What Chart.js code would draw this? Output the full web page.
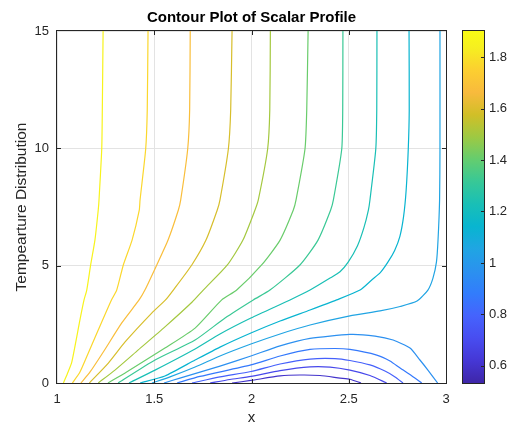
<!DOCTYPE html>
<html>
<head>
<meta charset="utf-8">
<script src="https://cdn.jsdelivr.net/npm/chart.js@4"></script>
<style>
  html, body { margin: 0; padding: 0; background: #fff; }
  canvas { display: block; }
</style>
</head>
<body>
<canvas id="chart" width="511" height="423"></canvas>
<script>
// contour levels, highest first (same order as the lines below)
const levels = [1.86, 1.77, 1.68, 1.59, 1.50, 1.41, 1.32, 1.23, 1.14, 1.05, 0.96, 0.87, 0.78, 0.69, 0.60];

// colour bar range and ticks
const cMin = 0.533;
const cMax = 1.902;
const cTicks = [0.6, 0.8, 1, 1.2, 1.4, 1.6, 1.8];

const xTicks = [1.5, 2, 2.5];
const yTicks = [5, 10];

// contour lines, [x, y]
const line1 = [[1.237, 15], [1.233, 11.63], [1.230, 9.97], [1.216, 7.80], [1.212, 7.37], [1.195, 6.09], [1.173, 5.03], [1.153, 3.96], [1.139, 3.54], [1.118, 2.69], [1.076, 0.89], [1.057, 0.47], [1.033, 0]];
const line2 = [[1.468, 15], [1.464, 11.63], [1.456, 9.97], [1.427, 7.80], [1.423, 7.37], [1.386, 6.09], [1.341, 5.03], [1.307, 3.96], [1.280, 3.54], [1.212, 2.26], [1.161, 1.28], [1.118, 0.47], [1.079, 0]];
const line3 = [[1.685, 15], [1.682, 11.63], [1.672, 9.97], [1.636, 7.80], [1.624, 7.37], [1.571, 6.09], [1.513, 5.03], [1.452, 3.96], [1.422, 3.54], [1.333, 2.56], [1.238, 1.32], [1.170, 0.47], [1.123, 0]];
const line4 = [[1.900, 15], [1.893, 11.63], [1.881, 9.97], [1.838, 7.80], [1.824, 7.37], [1.766, 6.09], [1.693, 5.03], [1.598, 3.96], [1.558, 3.54], [1.487, 2.98], [1.350, 1.75], [1.264, 0.85], [1.166, 0]];
const line5 = [[2.097, 15], [2.094, 11.63], [2.083, 9.97], [2.035, 7.80], [2.018, 7.37], [1.956, 6.09], [1.876, 5.03], [1.752, 3.96], [1.695, 3.45], [1.555, 2.39], [1.418, 1.41], [1.298, 0.55], [1.212, 0]];
const line6 = [[2.291, 15], [2.284, 11.63], [2.275, 9.97], [2.229, 7.80], [2.215, 7.37], [2.147, 6.09], [2.052, 5.03], [1.924, 3.96], [1.847, 3.54], [1.710, 2.34], [1.555, 1.49], [1.358, 0.47], [1.262, 0]];
const line7 = [[2.470, 15], [2.469, 11.63], [2.464, 9.97], [2.421, 7.80], [2.407, 7.37], [2.342, 6.09], [2.249, 5.03], [2.095, 3.96], [2.009, 3.54], [1.864, 2.77], [1.710, 1.83], [1.504, 0.98], [1.314, 0]];
const line8 = [[2.645, 15], [2.644, 11.63], [2.639, 9.97], [2.609, 7.80], [2.601, 7.37], [2.578, 6.62], [2.545, 5.85], [2.497, 5.15], [2.455, 4.74], [2.404, 4.47], [2.301, 3.96], [2.198, 3.54], [1.997, 2.77], [1.838, 2.09], [1.710, 1.45], [1.504, 0.55], [1.370, 0]];
const line9 = [[2.810, 15], [2.811, 11.63], [2.806, 9.97], [2.795, 8.20], [2.782, 7.10], [2.763, 6.25], [2.736, 5.65], [2.702, 5.16], [2.661, 4.69], [2.618, 4.39], [2.558, 3.96], [2.438, 3.54], [2.301, 3.11], [2.147, 2.64], [1.997, 2.13], [1.838, 1.53], [1.710, 0.98], [1.555, 0.30], [1.427, 0]];
const line10 = [[2.969, 15], [2.969, 9.97], [2.967, 7.80], [2.959, 6.09], [2.951, 5.16], [2.933, 4.47], [2.907, 3.96], [2.851, 3.49], [2.764, 3.26], [2.661, 3.07], [2.506, 2.86], [2.301, 2.47], [2.147, 2.09], [1.997, 1.66], [1.838, 1.15], [1.710, 0.68], [1.581, 0.26], [1.488, 0]];
const line11 = [[1.550, 0], [1.632, 0.21], [1.838, 0.72], [1.997, 1.15], [2.147, 1.58], [2.301, 1.90], [2.506, 2.07], [2.635, 2.00], [2.728, 1.83], [2.815, 1.49], [2.866, 0.98], [2.907, 0.55], [2.957, 0]];
const line12 = [[1.617, 0], [1.735, 0.28], [1.997, 0.77], [2.147, 1.15], [2.301, 1.43], [2.429, 1.47], [2.506, 1.43], [2.644, 1.19], [2.712, 0.94], [2.764, 0.64], [2.825, 0.30], [2.875, 0]];
const line13 = [[1.694, 0], [1.838, 0.26], [1.997, 0.49], [2.147, 0.81], [2.301, 1.02], [2.429, 1.04], [2.506, 0.96], [2.609, 0.77], [2.686, 0.51], [2.738, 0.26], [2.779, 0]];
const line14 = [[1.787, 0], [1.889, 0.15], [1.997, 0.28], [2.147, 0.53], [2.301, 0.69], [2.404, 0.68], [2.506, 0.55], [2.609, 0.32], [2.695, 0]];
const line15 = [[1.900, 0], [1.997, 0.11], [2.147, 0.30], [2.249, 0.34], [2.352, 0.32], [2.455, 0.21], [2.506, 0.16], [2.563, 0]];

const contourLines = [line1, line2, line3, line4, line5, line6, line7, line8, line9, line10, line11, line12, line13, line14, line15];

// parula colormap, sampled
const parula = [
  [0.2422, 0.1504, 0.6603], [0.2706, 0.2147, 0.8364], [0.2813, 0.3006, 0.9414],
  [0.2699, 0.3892, 0.9906], [0.1963, 0.4847, 0.9892], [0.1687, 0.5703, 0.9359],
  [0.1248, 0.6459, 0.8883], [0.0297, 0.7082, 0.8163], [0.0964, 0.7500, 0.7120],
  [0.2161, 0.7843, 0.5923], [0.3909, 0.8029, 0.4354], [0.6174, 0.7876, 0.2612],
  [0.8203, 0.7498, 0.1535], [0.9728, 0.7298, 0.2394], [0.9892, 0.8136, 0.1885],
  [0.9628, 0.9373, 0.1265], [0.9769, 0.9839, 0.0805]
];
const parulaPos = [0, 4, 8, 12, 16, 20, 24, 28, 32, 36, 40, 44, 48, 52, 56, 60, 63].map(i => i / 63);

function colorAt(t) {
  t = Math.max(0, Math.min(1, t));
  let i = 0;
  while (i < parulaPos.length - 2 && t > parulaPos[i + 1]) i++;
  const f = (t - parulaPos[i]) / (parulaPos[i + 1] - parulaPos[i]);
  const c = parula[i].map((v, k) => Math.round(255 * (v + (parula[i + 1][k] - v) * f)));
  return `rgb(${c[0]},${c[1]},${c[2]})`;
}

const FONT = "'Liberation Sans', Arial, Helvetica, sans-serif";
const INK = '#262626';

const datasets = contourLines.map((pts, i) => ({
  label: String(levels[i]),
  data: pts.map(([x, y]) => ({ x, y })),
  borderColor: colorAt((levels[i] - cMin) / (cMax - cMin)),
  borderWidth: 1.2,
  pointRadius: 0,
  tension: 0.2,
  fill: false
}));

// box, inward tick marks and the colour bar
const framePlugin = {
  id: 'frame',
  afterDraw(chart) {
    const { ctx, chartArea: a, scales } = chart;
    ctx.save();
    ctx.strokeStyle = INK;
    ctx.lineWidth = 1;
    ctx.beginPath();
    xTicks.forEach(v => {
      const px = Math.round(scales.x.getPixelForValue(v)) + 0.5;
      ctx.moveTo(px, a.bottom); ctx.lineTo(px, a.bottom - 4);
      ctx.moveTo(px, a.top); ctx.lineTo(px, a.top + 4);
    });
    yTicks.forEach(v => {
      const py = Math.round(scales.y.getPixelForValue(v)) + 0.5;
      ctx.moveTo(a.left, py); ctx.lineTo(a.left + 4, py);
      ctx.moveTo(a.right, py); ctx.lineTo(a.right - 4, py);
    });
    ctx.stroke();
    ctx.strokeRect(a.left - 0.5, a.top - 0.5, a.right - a.left + 1, a.bottom - a.top + 1);

    // colour bar
    const bx = a.right + 17, bw = 21;
    const grad = ctx.createLinearGradient(0, a.bottom, 0, a.top);
    parula.forEach((c, i) => {
      grad.addColorStop(parulaPos[i], `rgb(${c.map(v => Math.round(v * 255)).join(',')})`);
    });
    ctx.fillStyle = grad;
    ctx.fillRect(bx, a.top, bw, a.bottom - a.top);
    ctx.strokeRect(bx - 0.5, a.top - 0.5, bw + 1, a.bottom - a.top + 1);
    ctx.font = `13px ${FONT}`;
    ctx.fillStyle = INK;
    ctx.textAlign = 'left';
    ctx.textBaseline = 'middle';
    ctx.beginPath();
    cTicks.forEach(v => {
      const py = a.bottom - (v - cMin) / (cMax - cMin) * (a.bottom - a.top);
      const ly = Math.round(py) + 0.5;
      ctx.moveTo(bx + bw, ly); ctx.lineTo(bx + bw - 3, ly);
      ctx.fillText(String(v), bx + bw + 5, py);
    });
    ctx.stroke();
    ctx.restore();
  }
};

new Chart(document.getElementById('chart').getContext('2d'), {
  type: 'line',
  data: { datasets },
  options: {
    responsive: false,
    animation: false,
    layout: { padding: { top: 0, right: 65, bottom: 0, left: 0 } },
    plugins: {
      legend: { display: false },
      tooltip: { enabled: false },
      title: {
        display: true,
        fullSize: false,
        text: 'Contour Plot of Scalar Profile',
        color: '#000',
        font: { family: FONT, size: 15, weight: 'bold' },
        padding: { top: 9, bottom: 4 }
      }
    },
    scales: {
      x: {
        type: 'linear',
        min: 1,
        max: 3,
        ticks: { stepSize: 0.5, color: INK, font: { family: FONT, size: 13 }, padding: 9, maxRotation: 0, callback: v => String(+v.toFixed(2)) },
        grid: { color: '#e3e3e3', drawTicks: false },
        border: { display: false },
        title: { display: true, text: 'x', color: INK, font: { family: FONT, size: 15 }, padding: { top: 0, bottom: -3.5 } },
        afterFit: s => { s.height = 40; }
      },
      y: {
        type: 'linear',
        min: 0,
        max: 15,
        ticks: { stepSize: 5, color: INK, font: { family: FONT, size: 13 }, padding: 8 },
        grid: { color: '#e3e3e3', drawTicks: false },
        border: { display: false },
        title: { display: true, text: 'Tempearture Distribution', color: INK, font: { family: FONT, size: 15.5 }, padding: { top: 12.7, bottom: 0 } },
        afterFit: s => { s.width = 57; }
      }
    }
  },
  plugins: [framePlugin]
});
</script>
</body>
</html>
